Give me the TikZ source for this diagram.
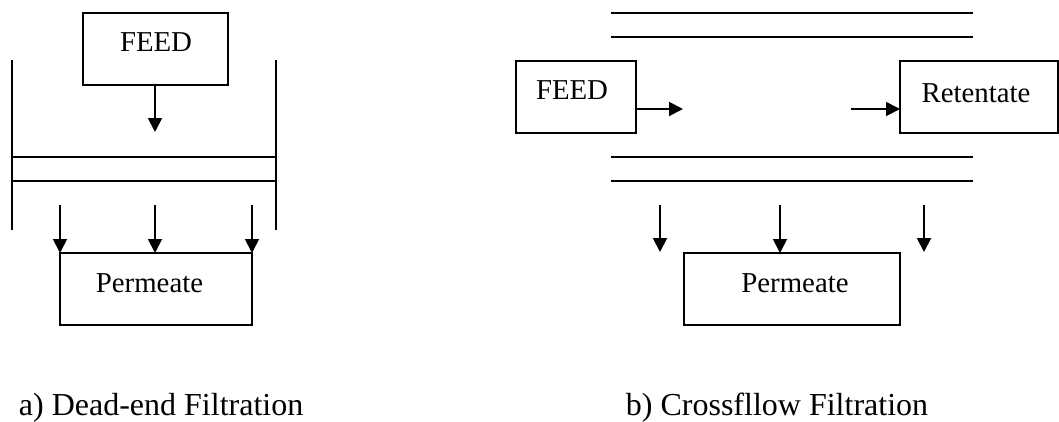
\documentclass[tikz,border=0pt]{standalone}
\usepackage{fontspec}
\setmainfont[Ligatures=NoCommon]{Liberation Serif}
\usetikzlibrary{arrows.meta}
\begin{document}
\begin{tikzpicture}[x=0.75pt,y=-0.75pt,
  line width=1.4pt,
  boxnode/.style={draw,rectangle,inner sep=0pt,outer sep=0pt,line width=1.4pt},
  txt/.style={anchor=base,inner sep=0pt,font=\fontsize{21.6}{26}\selectfont},
  captxt/.style={anchor=base west,inner sep=0pt,font=\fontsize{24}{29}\selectfont},
  flow/.style={-{Triangle[length=10.5pt,width=10.5pt]},line width=1.4pt},
  wall/.style={line width=1.4pt}]
\useasboundingbox (0,0) rectangle (1059,421);

% ---------- a) Dead-end ----------
\node[boxnode,minimum width=108.75pt,minimum height=54pt] (feedA) at (155.5,49) {};
\node[txt] (feedAt) at (156,51) {FEED};
\coordinate (feedAend) at (155,132);
\draw[flow] (feedA.south -| feedAend) -- (feedAend);

\coordinate (wLt) at (12,60);  \coordinate (wLb) at (12,230);
\coordinate (wRt) at (276,60); \coordinate (wRb) at (276,230);
\draw[wall] (wLt) -- (wLb);
\draw[wall] (wRt) -- (wRb);
\coordinate (m1L) at (12,157); \coordinate (m1R) at (276,157);
\coordinate (m2L) at (12,181); \coordinate (m2R) at (276,181);
\draw[wall] (m1L) -- (m1R);
\draw[wall] (m2L) -- (m2R);

\node[boxnode,minimum width=144pt,minimum height=54pt] (permA) at (156,289) {};
\node[txt] (permAt) at (149.5,292) {Permeate};
\coordinate (pa1) at (60,205);
\coordinate (pa2) at (155,205);
\coordinate (pa3) at (252,205);
\draw[flow] (pa1) -- (permA.north -| pa1);
\draw[flow] (pa2) -- (permA.north -| pa2);
\draw[flow] (pa3) -- (permA.north -| pa3);

\node[captxt] (capA) at (18,415) {a) Dead-end Filtration};

% ---------- b) Crossflow ----------
\coordinate (t1L) at (611,13); \coordinate (t1R) at (973,13);
\coordinate (t2L) at (611,37); \coordinate (t2R) at (973,37);
\coordinate (b1L) at (611,157); \coordinate (b1R) at (973,157);
\coordinate (b2L) at (611,181); \coordinate (b2R) at (973,181);
\draw[wall] (t1L) -- (t1R);
\draw[wall] (t2L) -- (t2R);
\draw[wall] (b1L) -- (b1R);
\draw[wall] (b2L) -- (b2R);

\node[boxnode,minimum width=90pt,minimum height=54pt] (feedB) at (576,97) {};
\node[txt] (feedBt) at (572,99) {FEED};
\node[boxnode,minimum width=118.5pt,minimum height=54pt] (ret) at (979,97) {};
\node[txt] (rett) at (976,102) {Retentate};

\coordinate (fbE) at (683,109);
\draw[flow] (feedB.east |- fbE) -- (fbE);
\coordinate (rS) at (851,109);
\draw[flow] (rS) -- (rS -| ret.west);

\node[boxnode,minimum width=162pt,minimum height=54pt] (permB) at (792,289) {};
\node[txt] (permBt) at (795,292) {Permeate};
\coordinate (pb1) at (660,205); \coordinate (pb1e) at (660,252);
\coordinate (pb2) at (780,205);
\coordinate (pb3) at (924,205); \coordinate (pb3e) at (924,252);
\draw[flow] (pb1) -- (pb1e);
\draw[flow] (pb2) -- (permB.north -| pb2);
\draw[flow] (pb3) -- (pb3e);

\node[captxt] (capB) at (625,415) {b) Crossfllow Filtration};
\end{tikzpicture}
\end{document}
